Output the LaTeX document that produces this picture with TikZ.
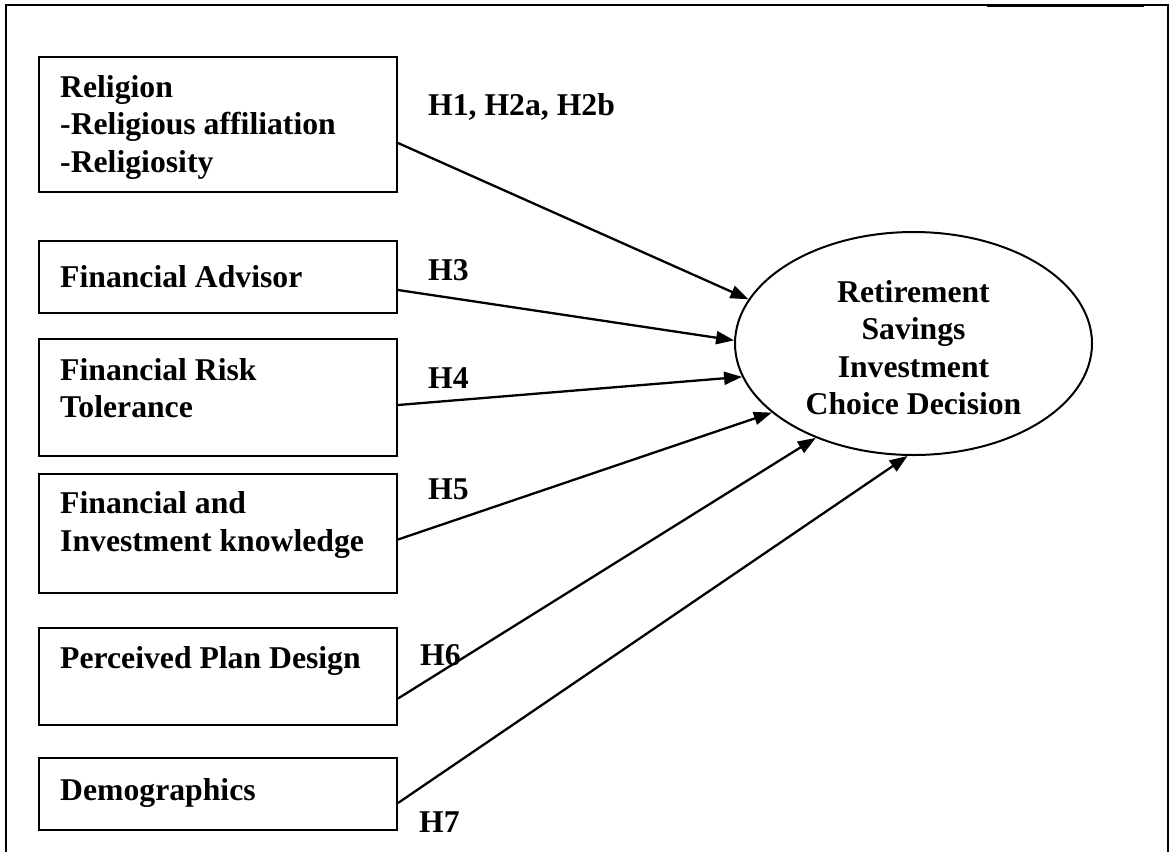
\documentclass[tikz,border=0pt]{standalone}
\usepackage{fontspec}
\setmainfont{Liberation Serif}
\usetikzlibrary{arrows.meta,shapes.geometric}
\begin{document}
\begin{tikzpicture}[x=1pt,y=-1pt,
  every node/.style={inner sep=0pt, font=\bfseries\fontsize{31.7}{37.5}\selectfont},
  factor/.style={draw, line width=2pt, rectangle, minimum width=358pt},
  txt/.style={align=left},
  hyp/.style={anchor=base west},
  arr/.style={line width=2.3pt, -{Triangle[length=18pt,width=13pt]}}]
\useasboundingbox (0,0) rectangle (1173,852);

% open frame
\draw[line width=1.5pt] (6,852) -- (6,5) -- (1168,5) -- (1168,852);
\draw[line width=3pt] (987,5) -- (1144,5);

% factor boxes
\node[factor, minimum height=135pt] (rel)  at (218,124.5) {};
\node[factor, minimum height=72pt]  (adv)  at (218,277)   {};
\node[factor, minimum height=117pt] (risk) at (218,397.5) {};
\node[factor, minimum height=119pt] (know) at (218,533.5) {};
\node[factor, minimum height=97pt]  (plan) at (218,676.5) {};
\node[factor, minimum height=72pt]  (demo) at (218,794)   {};

% box captions
\node[txt, anchor=west] (relT) at (60,127.3) {Religion\\-Religious affiliation\\-Religiosity};
\node[hyp] (advT) at (60,287) {Financial Advisor};
\node[txt, anchor=west] (riskT) at (60,388) {Financial Risk\\Tolerance};
\node[txt, anchor=west] (knowT) at (60,525) {Financial and\\Investment knowledge};
\node[hyp] (planT) at (60,668) {Perceived Plan Design};
\node[hyp] (demoT) at (60,800) {Demographics};

% outcome
\node[draw, ellipse, line width=2pt, minimum width=357pt, minimum height=223pt]
  (out) at (913.5,343.5) {};
\node[align=center] (outT) at (913.5,347.5) {Retirement\\Savings\\Investment\\Choice Decision};

% hypotheses
\draw[arr] ([yshift=-18.5pt]rel.east)  -- (out.165);
\draw[arr] ([yshift=-13pt]adv.east)    -- (out.179);
\draw[arr] ([yshift=-7.5pt]risk.east)  -- (out.191.4);
\draw[arr] ([yshift=-6pt]know.east)    -- (out.206.3);
\draw[arr] ([yshift=-22pt]plan.east)   -- (out.224.4);
\draw[arr] ([yshift=-9pt]demo.east)    -- (out.267.2);

\node[hyp] (h1) at (428,115) {H1, H2a, H2b};
\node[hyp] (h3) at (428,280) {H3};
\node[hyp] (h4) at (428,388) {H4};
\node[hyp] (h5) at (428,499) {H5};
\node[hyp] (h6) at (420,665) {H6};
\node[hyp] (h7) at (419,832) {H7};
\end{tikzpicture}
\end{document}
